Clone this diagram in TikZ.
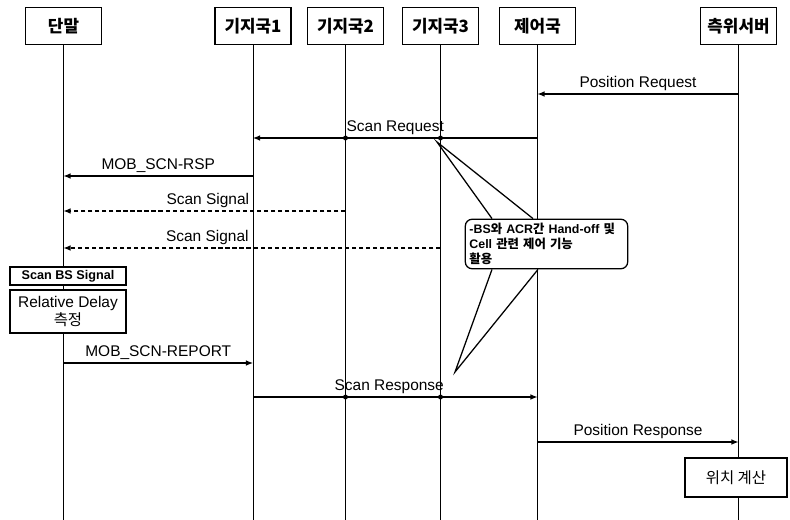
\documentclass[tikz,border=0pt]{standalone}
\usepackage{fontspec}
\setmainfont{Liberation Sans}
\newfontfamily\kr{Noto Sans CJK KR}
\usetikzlibrary{arrows.meta}

\begin{document}
\begin{tikzpicture}[
    x=0.025cm, y=-0.025cm,
    font=\fontsize{11}{13}\selectfont,
    head/.style={
      draw, line width=1.1pt, fill=white,
      minimum width=1.9cm, minimum height=0.92cm,
      inner sep=2pt, font=\fontsize{12}{14}\selectfont\kr\bfseries
    },
    procbox/.style={draw, line width=0.9pt, fill=white, align=center, inner sep=1pt},
    note/.style={
      draw, line width=0.9pt, rounded corners=5pt, fill=white,
      align=left, text width=3.85cm, minimum height=1.2cm, inner sep=3pt,
      font=\fontsize{8.8}{10.5}\selectfont\bfseries
    },
    life/.style={line width=0.7pt},
    msg/.style={-{Latex[length=5pt,width=4pt]}, line width=0.8pt},
    sig/.style={msg, dash pattern=on 3pt off 2pt},
    lbl/.style={above, inner sep=2pt},
    jdot/.style={circle, fill, inner sep=0pt, minimum size=3.5pt}
  ]
    \useasboundingbox (0,0) rectangle (790,520);

    % entities
    \node[head] (ms) at (63.5,26) {단말};
    \node[head] (bs1) at (253,26) {기지국1};
    \node[head] (bs2) at (345.5,26) {기지국2};
    \node[head] (bs3) at (440.5,26) {기지국3};
    \node[head] (ctrl) at (537.5,26) {제어국};
    \node[head] (srv) at (738.5,26) {측위서버};

    \coordinate (bottom) at (0,520);
    \foreach \n in {ms,bs1,bs2,bs3,ctrl,srv}
      \draw[life] (\n.south) -- (\n |- bottom);

    % message rows
    \coordinate (rPreq) at (0,94);
    \coordinate (rSreq) at (0,138);
    \coordinate (rRsp) at (0,176);
    \coordinate (rSig1) at (0,211);
    \coordinate (rSig2) at (0,248);
    \coordinate (rRep) at (0,363);
    \coordinate (rSresp) at (0,397);
    \coordinate (rPresp) at (0,442);

    % local processing
    \node[procbox, minimum width=2.9cm, minimum height=0.45cm,
      font=\fontsize{9}{10}\selectfont\bfseries] (scanbs) at (68,276) {Scan BS Signal};
    \node[procbox, minimum width=2.9cm, minimum height=1.075cm] (delay) at (68,311.5)
      {Relative Delay\\{\kr 측정}};
    \node[procbox, minimum width=2.55cm, minimum height=0.975cm] (calc) at (736,477.5)
      {\kr 위치 계산};

    % callout
    \node[note] (memo) at (546.5,244)
      {-BS{\kr 와} ACR{\kr 간} Hand-off {\kr 및}\\Cell {\kr 관련 제어 기능}\\{\kr 활용}};
    \coordinate (tipUp) at (437,142);
    \coordinate (tipDn) at (455,372);
    \draw[line width=0.9pt] (memo.north -| 492,0) -- (tipUp) -- (memo.north -| 533,0);
    \draw[line width=0.9pt] (memo.south -| 492,0) -- (tipDn) -- (memo.south -| 538,0);

    % messages
    \draw[msg] (srv |- rPreq) -- node[lbl] {Position Request} (ctrl |- rPreq);
    \draw[msg] (ctrl |- rSreq) -- node[lbl] {Scan Request} (bs1 |- rSreq);
    \draw[msg] (bs1 |- rRsp) -- node[lbl] {MOB\_SCN-RSP} (ms |- rRsp);
    \draw[sig] (bs2 |- rSig1) -- node[pos=0.33, anchor=south east, inner sep=2pt] {Scan Signal} (ms |- rSig1);
    \draw[sig] (bs3 |- rSig2) -- node[pos=0.5, anchor=south east, inner sep=2pt] {Scan Signal} (ms |- rSig2);
    \draw[msg] (ms |- rRep) -- node[lbl] {MOB\_SCN-REPORT} (bs1 |- rRep);
    \draw[msg] (bs1 |- rSresp) -- node[lbl, xshift=-0.15cm] {Scan Response} (ctrl |- rSresp);
    \draw[msg] (ctrl |- rPresp) -- node[lbl] {Position Response} (srv |- rPresp);

    \foreach \l/\r [count=\i] in {bs2/rSreq, bs3/rSreq, bs2/rSresp, bs3/rSresp}
      \node[jdot] (dot\i) at (\l |- \r) {};
  \end{tikzpicture}
\end{document}
